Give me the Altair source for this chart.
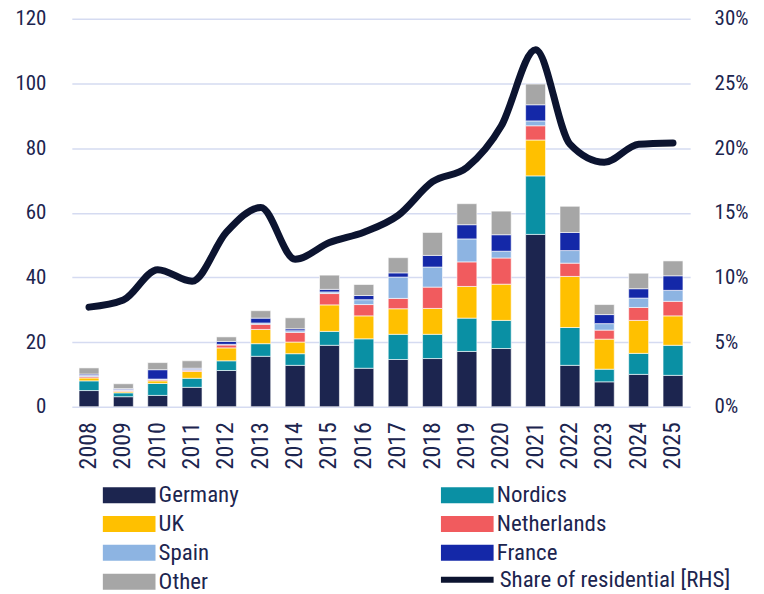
import altair as alt
import pandas as pd

years = [str(y) for y in range(2008, 2026)]
countries = ["Germany", "Nordics", "UK", "Netherlands", "Spain", "France", "Other"]
colors = ["#1c254f", "#0a90a4", "#ffc000", "#f15b5e", "#8db4e2", "#1428a8", "#a6a6a6"]
# legend is filled column by column: order the domain so rows read Germany|Nordics, UK|Netherlands, ...
legend_order = ["Germany", "UK", "Spain", "Other", "Nordics", "Netherlands", "France"]

germany = [5.0, 3.1, 3.5, 6.0, 11.2, 15.6, 12.8, 19.0, 11.9, 14.6, 14.9, 17.1, 18.0, 53.3, 12.8, 7.7, 10.0, 9.7]
nordics = [3.0, 1.2, 3.7, 2.8, 3.0, 3.9, 3.6, 4.3, 9.1, 7.8, 7.5, 10.3, 8.7, 18.1, 11.7, 3.9, 6.5, 9.3]
uk = [0.9, 0.4, 0.8, 2.1, 4.0, 4.4, 3.6, 8.2, 7.1, 7.9, 8.0, 9.8, 11.2, 11.1, 15.8, 9.3, 10.2, 9.1]
netherlands = [0.4, 0.3, 0.35, 0.4, 0.9, 1.6, 3.0, 3.5, 3.5, 3.2, 6.6, 7.6, 8.1, 4.4, 4.1, 2.8, 4.0, 4.5]
spain = [0.4, 0.3, 0.2, 0.3, 0.2, 0.4, 0.5, 0.5, 1.5, 6.6, 6.2, 7.1, 2.1, 1.5, 3.9, 2.0, 2.9, 3.4]
france = [0.4, 0.3, 2.9, 0.3, 0.9, 1.5, 0.6, 0.8, 1.3, 1.3, 3.6, 4.4, 5.1, 5.0, 5.6, 2.8, 2.9, 4.5]
other = [1.9, 1.5, 2.2, 2.3, 1.4, 2.3, 3.4, 4.4, 3.4, 4.7, 7.1, 6.5, 7.3, 6.4, 8.1, 3.1, 4.8, 4.6]
share = [7.7, 8.25, 10.6, 9.7, 13.5, 15.4, 11.4, 12.7, 13.5, 14.8, 17.4, 18.5, 21.7, 27.6, 20.3, 18.9, 20.3, 20.4]

series = [germany, nordics, uk, netherlands, spain, france, other]
rows = []
for ci, (name, vals) in enumerate(zip(countries, series)):
    for y, v in zip(years, vals):
        rows.append({"year": y, "country": name, "value": v, "ord": ci})
bar_df = pd.DataFrame(rows)
line_df = pd.DataFrame({"year": years, "share": share, "series": "Share of residential [RHS]"})
color_map = dict(zip(countries, colors))

FONT = "Liberation Sans Narrow, Roboto Condensed, DejaVu Sans Condensed, sans-serif"
TXT = "#1c254f"

x_enc = alt.X(
    "year:N",
    sort=years,
    scale=alt.Scale(paddingInner=0.42, paddingOuter=0.21),
    axis=alt.Axis(title=None, labelAngle=-90, ticks=False, domain=False, labelPadding=15,
                  labelFontSize=24, labelColor=TXT, labelFont=FONT),
)

bars = alt.Chart(bar_df).mark_bar(stroke="white", strokeWidth=0.6).encode(
    x=x_enc,
    y=alt.Y("value:Q", stack="zero",
            scale=alt.Scale(domain=[0, 120], nice=False),
            axis=alt.Axis(title=None, values=list(range(0, 121, 20)), grid=True,
                          gridColor="#d5dbf1", gridWidth=1.5, domain=False, ticks=False,
                          labelPadding=26, labelFontSize=21, labelColor=TXT, labelFont=FONT)),
    color=alt.Color("country:N",
                    scale=alt.Scale(domain=legend_order, range=[color_map[c] for c in legend_order]),
                    legend=alt.Legend(title=None, orient="none", legendX=46, legendY=466,
                                      columns=2, columnPadding=202, rowPadding=5,
                                      symbolType="M-3.3,-1H3.3V1H-3.3Z", symbolSize=256,
                                      symbolStrokeWidth=0, labelOffset=18, labelLimit=300,
                                      labelFontSize=23, labelColor=TXT, labelFont=FONT)),
    order=alt.Order("ord:Q", sort="ascending"),
)

line = alt.Chart(line_df).mark_line(strokeWidth=7, interpolate="monotone", strokeCap="round").encode(
    x=alt.X("year:N", sort=years),
    y=alt.Y("share:Q", scale=alt.Scale(domain=[0, 30], nice=False),
            axis=alt.Axis(title=None, orient="right", values=list(range(0, 31, 5)),
                          labelExpr="datum.value + '%'", grid=False, domain=False, ticks=False,
                          labelPadding=24, labelFontSize=21, labelColor=TXT, labelFont=FONT)),
    stroke=alt.Stroke("series:N",
                      scale=alt.Scale(domain=["Share of residential [RHS]"], range=["#0c1430"]),
                      legend=alt.Legend(title=None, orient="none", legendX=385, legendY=551,
                                        symbolType="M-3.3,0H3.3", symbolSize=256, symbolStrokeWidth=6,
                                        labelOffset=21, labelLimit=300,
                                        labelFontSize=23, labelColor=TXT, labelFont=FONT)),
)

chart = alt.layer(bars, line).resolve_scale(y="independent").properties(
    width=620, height=389,
    autosize=alt.AutoSizeParams(type="none"),
    padding={"left": 64, "top": 10, "right": 66, "bottom": 187},
).configure_view(stroke=None)

chart.save("out.html", embed_options={"renderer": "svg", "actions": False})
